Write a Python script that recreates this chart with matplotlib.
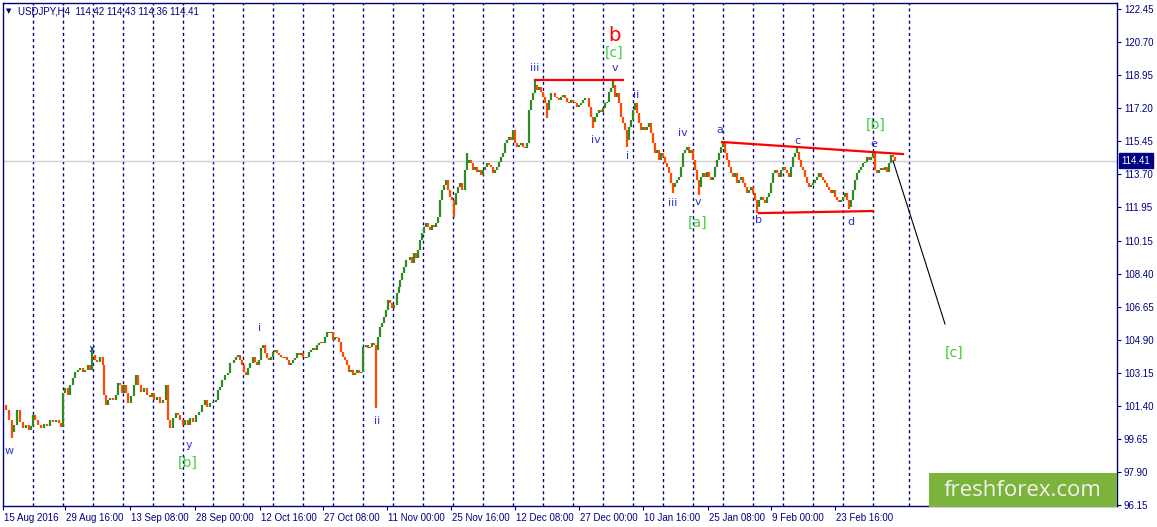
import numpy as np
import matplotlib
matplotlib.use("Agg")
import matplotlib.pyplot as plt
import matplotlib.transforms as mtransforms

plt.rcParams['font.family'] = ['Liberation Sans', 'DejaVu Sans']

bar = [3, 6, 9, 12, 14, 17, 20, 23, 26, 29, 31, 33, 35, 38, 41, 44, 47, 50, 53, 56, 59, 61,
       63, 65, 68, 70, 73, 75, 78, 80, 83, 85, 88, 90, 92, 95, 97, 100, 103, 104, 106, 108,
       110, 113, 116, 118, 120, 122, 124, 126, 128, 131, 134, 136, 138, 141, 144, 147, 150,
       152, 154, 157, 160, 163, 166, 168, 170, 173, 176, 178, 180, 183, 185, 188, 190, 193,
       196, 199,
       202, 205, 207, 210, 213, 216, 218, 220, 222, 225, 228, 230, 232, 234, 236, 238, 240,
       242, 244, 246, 248, 250, 253, 255, 257, 259, 261, 263, 265, 267, 269, 271, 273, 275,
       277, 279, 281, 283, 285, 287, 289, 291, 293, 295, 297, 299, 301, 303, 305, 307, 309,
       311, 313, 315, 317, 319, 321, 323, 325, 327, 329, 331, 333, 335, 337, 339, 341, 343,
       345, 347, 349, 351, 353, 355, 357, 359, 361, 363, 366, 368, 370, 372, 374, 376, 378,
       380, 382, 384, 386, 388, 390, 392, 394, 397, 399, 400, 402, 404, 406, 408, 410, 412,
       414, 416, 418, 420, 422, 424, 426, 428, 430, 432, 434, 436, 438, 440, 442, 444, 446,
       448, 450, 452, 454, 456, 458, 460, 462, 465, 467, 469, 471, 473, 475, 477, 479, 481,
       483, 485, 487, 489, 491, 493, 495, 497, 499, 501, 503, 505, 507, 509, 511, 513, 515,
       517, 519, 521, 523, 525, 527, 529, 531, 533, 535, 537, 539, 541, 543, 545, 547, 549,
       551, 553, 555, 557, 559, 561, 563, 565, 567, 569, 571, 573, 575, 577, 579, 581, 583,
       585, 587, 589, 591, 593, 595, 597, 599, 601, 603, 605, 607, 609, 611, 613, 615, 617,
       619, 621, 623, 625, 627, 629, 631, 633, 635, 637, 639, 641, 643, 645, 647, 649, 651,
       653, 655, 657, 659, 661, 663, 665, 667, 669, 671, 673, 675, 677, 679, 681, 683, 685,
       687, 689, 691, 693, 695, 697, 699, 701, 703, 705, 707, 709, 711, 713, 715, 717, 719,
       721, 723, 725, 727, 729, 731, 733, 735, 737, 739, 741, 743, 745, 747, 749, 751, 753,
       755, 757, 759, 761, 763, 765, 767, 769, 771, 773, 775, 777, 779, 781, 783, 785, 787,
       789, 791, 793, 795, 797, 799, 801, 803, 805, 807, 809, 811, 813, 815, 817, 819, 821,
       823, 825, 827, 829, 831, 833, 835, 837, 839, 841, 843, 845, 847, 849, 851, 853, 855,
       857, 859, 861, 863, 865, 867, 869, 871, 873, 875, 877, 879, 881, 883, 885, 887, 889,
       891, 893, 895]

close = [101.45, 101.19, 100.66, 100.02, 100.39, 101.19, 100.55, 100.23, 100.39, 100.13, 100.34,
         100.92, 100.66, 100.39, 100.23, 100.45, 100.34, 100.66, 100.55, 100.66, 100.50, 100.29,
         102.09, 102.36, 101.98, 102.51, 102.89, 103.20, 103.31, 103.42, 103.20, 103.31, 103.58,
         103.31, 104.11, 103.84, 103.73, 104.00, 103.58, 101.98, 101.45, 101.72, 101.83, 101.72,
         101.98, 102.62, 102.51, 102.09, 102.51, 102.09, 101.56, 101.93, 102.51, 103.04, 102.51,
         102.14, 102.36, 101.98, 101.88, 102.09, 101.72, 101.88, 101.56, 101.72, 102.51, 100.66,
         100.23, 100.77, 101.03, 100.92, 100.66, 100.39, 100.66, 100.39, 100.77, 100.55, 100.92,
         101.08,
         101.45, 101.72, 101.35, 101.56, 101.61, 101.72, 102.25, 102.41, 102.78, 103.04, 103.15,
         103.68, 103.68, 103.84, 104.00, 104.11, 103.84, 103.58, 103.20, 103.04, 103.42, 103.68,
         104.00, 103.73, 103.58, 103.84, 104.48, 104.64, 104.21, 103.95, 103.84, 104.00, 104.26,
         104.37, 104.21, 104.11, 104.00, 103.95, 104.00, 103.84, 103.58, 103.68, 103.84, 103.95,
         104.21, 104.11, 104.21, 104.00, 103.95, 104.00, 104.26, 104.37, 104.48, 104.37, 104.64,
         104.74, 104.79, 104.74, 105.06, 105.32, 105.27, 105.32, 104.90, 105.06, 105.01, 104.79,
         104.26, 104.00, 103.84, 103.58, 103.20, 103.31, 103.04, 103.15, 103.31, 103.15, 103.20,
         104.53, 104.64, 104.48, 104.53, 104.74, 104.64, 104.37, 105.06, 105.59, 105.80, 106.12,
         106.49, 107.02, 106.86, 106.60, 106.76, 107.39, 107.71, 108.08, 108.45, 108.77, 109.14,
         109.14, 109.30, 108.98, 109.51, 109.25, 109.67, 110.20, 110.57, 110.89, 111.10, 110.89,
         110.73, 111.00, 110.89, 111.10, 111.42, 112.32, 112.85, 113.12, 113.38, 112.85, 112.48,
         112.32, 112.06, 112.69, 113.01, 113.22, 112.85, 113.91, 114.29, 114.44, 114.29, 113.91,
         114.07, 113.81, 113.91, 113.65, 113.91, 114.07, 114.29, 114.18, 114.07, 113.76, 113.91,
         114.07, 114.34, 114.60, 114.82, 115.35, 115.50, 115.66, 115.50, 116.03, 115.35, 115.13,
         115.24, 115.35, 115.13, 115.08, 115.35, 117.10, 117.63, 118.00, 118.42, 118.16, 118.31,
         118.05, 117.78, 117.47, 117.10, 117.63, 118.00, 118.00, 117.78, 117.73, 117.63, 117.78,
         117.89, 117.73, 117.52, 117.47, 117.63, 117.52, 117.47, 117.25, 117.36, 117.47, 117.63,
         117.73, 117.73, 117.25, 116.72, 116.46, 116.72, 116.94, 117.10, 116.99, 117.20, 117.47,
         117.52, 118.05, 118.26, 118.42, 117.78, 118.00, 117.47, 116.72, 116.41, 116.03, 115.50,
         116.19, 116.56, 117.10, 117.47, 116.94, 116.41, 116.03, 116.19, 116.03, 116.19, 116.41,
         115.88, 115.35, 114.82, 114.97, 114.44, 114.82, 114.60, 114.29, 114.07, 113.76, 113.22,
         113.01, 113.22, 113.38, 113.54, 114.07, 114.82, 114.97, 115.13, 114.82, 114.97, 114.44,
         113.91, 113.38, 113.01, 113.54, 113.76, 113.54, 113.81, 113.54, 113.38, 113.54, 114.07,
         114.44, 114.82, 115.13, 115.35, 114.82, 114.44, 114.07, 113.76, 113.54, 113.76, 113.22,
         113.38, 113.54, 113.22, 113.01, 112.69, 112.85, 113.01, 112.69, 112.32, 111.95, 112.32,
         112.48, 112.32, 112.16, 112.48, 112.69, 113.22, 113.76, 113.91, 113.76, 113.54, 113.91,
         114.07, 113.91, 113.76, 113.54, 114.07, 114.60, 114.82, 114.87, 114.44, 114.07, 113.91,
         113.54, 113.22, 113.01, 113.12, 113.22, 113.38, 113.54, 113.76, 113.54, 113.38, 113.22,
         113.01, 112.85, 112.69, 112.85, 112.48, 112.32, 112.22, 112.32, 112.48, 112.69, 112.32,
         111.95, 112.32, 112.85, 113.38, 113.76, 113.91, 114.07, 114.29, 114.34, 114.60, 114.44,
         114.60, 114.82, 113.91, 113.76, 113.91, 114.02, 113.91, 114.07, 113.81, 114.29, 114.71,
         114.60, 114.41]

# notable wick extremes
wick_bar = [12, 92, 376, 454, 467, 535, 547, 593, 613, 627, 673, 699, 757, 797, 849, 873]
wick_price = [99.70, 104.53, 101.30, 111.42, 114.82, 118.69, 116.67, 116.14, 118.69, 115.13,
              112.69, 112.59, 111.63, 115.13, 111.85, 114.87]

last_price = 114.41
header = "USDJPY,H4  114.42 114.43 114.36 114.41"

y_ticks = [122.45, 120.70, 118.95, 117.20, 115.45, 113.70, 111.95, 110.15, 108.40, 106.65,
           104.90, 103.15, 101.40, 99.65, 97.90, 96.15]
x_tick_bars = [3, 65, 130, 195, 260, 323, 387, 451, 515, 579, 643, 708, 771, 835]
x_tick_labels = ["15 Aug 2016", "29 Aug 16:00", "13 Sep 08:00", "28 Sep 00:00", "12 Oct 16:00",
                 "27 Oct 08:00", "11 Nov 00:00", "25 Nov 16:00", "12 Dec 08:00", "27 Dec 00:00",
                 "10 Jan 16:00", "25 Jan 08:00", "9 Feb 00:00", "23 Feb 16:00"]
week_bars = list(range(33, 874, 30)) + [909]

# drawn objects
top_line = ([535, 623], [118.69, 118.69])
upper_line = ([722, 903], [115.40, 114.76])
lower_line = ([759, 873], [111.63, 111.74])
forecast = ([893, 945], [114.41, 105.75])

wave_text = ["b", "[c]", "v", "iii", "iv", "i", "ii", "iv", "iii", "v", "[a]", "a", "b", "c",
             "d", "e", "[b]", "[c]", "x", "w", "y", "[b]", "i", "ii"]
wave_bar = [614, 614, 615, 535, 596, 628, 636, 683, 673, 698, 698, 720, 759, 797,
            851, 874, 876, 954, 92, 9, 189, 188, 260, 377]
wave_price = [121.07, 120.12, 119.32, 119.32, 115.50, 114.66, 117.89, 115.88, 112.16, 112.22,
              111.10, 116.03, 111.26, 115.45, 111.16, 115.29, 116.30, 104.21, 104.42, 99.02,
              99.33, 98.38, 105.54, 100.61]

NAVY = "#000080"
UP = "#2e8b22"
DOWN = "#ff4a00"
BLUE_LBL = "#3030d0"
GREEN_LBL = "#3fcc3f"

W, H = 1157, 527
fig = plt.figure(figsize=(W / 100, H / 100), dpi=100)
ax = fig.add_axes([3 / W, (H - 506) / H, 1114 / W, 503 / H])
ax.set_xlim(3, 1117)
ax.set_ylim(96.10, 122.77)

for wb in week_bars:
    ax.axvline(wb, color=NAVY, lw=1.0, ls=(0, (2.2, 2.2)), zorder=1)

ax.axhline(last_price, color="#d0d0d0", lw=1.0, zorder=1)

# candles: open is previous close
opens = [close[0]] + close[:-1]
lo = [min(o, c) for o, c in zip(opens, close)]
hi = [max(o, c) for o, c in zip(opens, close)]
for wb, wp in zip(wick_bar, wick_price):
    i = bar.index(wb)
    lo[i] = min(lo[i], wp)
    hi[i] = max(hi[i], wp)
cols = [UP if c >= o else DOWN for o, c in zip(opens, close)]
ax.vlines(bar, lo, hi, colors=cols, lw=1.6, zorder=3)

ax.plot(*top_line, color="red", lw=1.6, zorder=4)
ax.plot(*upper_line, color="red", lw=1.6, zorder=4)
ax.plot(*lower_line, color="red", lw=1.6, zorder=4)
ax.plot(*forecast, color="black", lw=0.8, zorder=4)

for t, b, p in zip(wave_text, wave_bar, wave_price):
    if t == "b" and p > 120:
        ax.text(b, p, t, color="red", fontsize=14, ha="center", va="center", zorder=5,
                family="DejaVu Sans")
    elif t.startswith("["):
        ax.text(b, p, t, color=GREEN_LBL, fontsize=10, ha="center", va="center", zorder=5,
                family="DejaVu Sans")
    else:
        ax.text(b, p, t, color=BLUE_LBL, fontsize=8, ha="center", va="center", zorder=5,
                family="DejaVu Sans")

for s in ax.spines.values():
    s.set_color(NAVY)
    s.set_linewidth(1.0)

ax.yaxis.tick_right()
ax.set_yticks(y_ticks)
ax.set_yticklabels([f"{v:.2f}" for v in y_ticks])
ax.tick_params(axis="y", direction="out", length=3, width=0.8, colors=NAVY,
               labelsize=7, pad=2)
ax.set_xticks(x_tick_bars)
ax.set_xticklabels(x_tick_labels, ha="left")
ax.tick_params(axis="x", direction="out", length=3, width=0.8, colors=NAVY,
               labelsize=7, pad=2)
for lbl in ax.get_xticklabels():
    lbl.set_transform(lbl.get_transform() + mtransforms.ScaledTranslation(1 / 100, 0, fig.dpi_scale_trans))

# current price tag on the axis
trans = mtransforms.blended_transform_factory(ax.transAxes, ax.transData)
ax.text(1.004, last_price, f"{last_price:.2f}", transform=trans, color="white", fontsize=7,
        ha="left", va="center", zorder=6,
        bbox=dict(boxstyle="square,pad=0.25", fc=NAVY, ec=NAVY))

fig.text(6 / W, 1 - 11 / H, "\u25bc", color=NAVY, fontsize=5, ha="left", va="center",
         family="DejaVu Sans")
fig.text(18 / W, 1 - 11 / H, header, color=NAVY, fontsize=7, ha="left", va="center")

# watermark
fig.patches.append(plt.Rectangle((929 / W, (H - 507) / H), 188 / W, 34 / H,
                                 transform=fig.transFigure, fc="#7cb33a", ec="none", zorder=10))
fig.text(1023 / W, 1 - 490 / H, "freshforex.com", color="#f2f2f2", fontsize=16,
         family="Open Sans", ha="center", va="center", zorder=11)

fig.savefig("out.png", dpi=100)
